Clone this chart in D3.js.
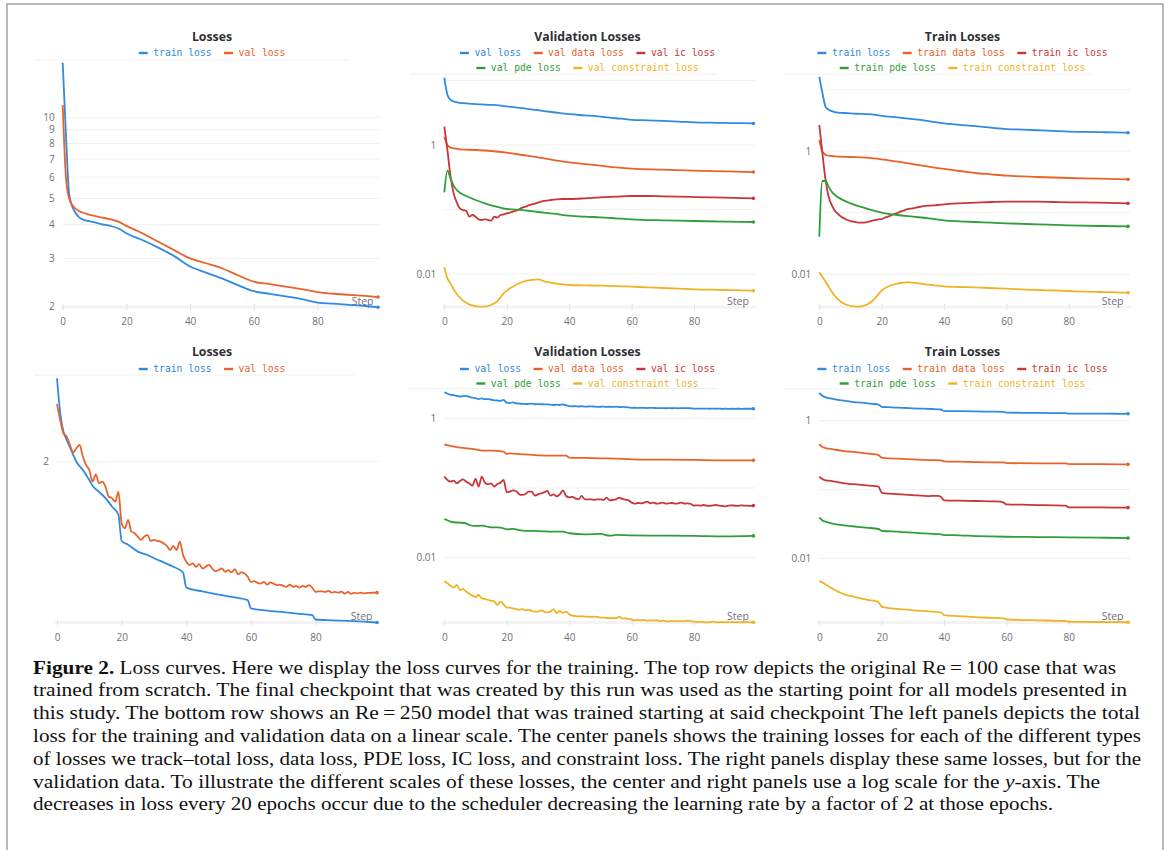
<!DOCTYPE html>
<html><head><meta charset="utf-8">
<script src="https://cdn.jsdelivr.net/npm/d3@7"></script>
<style>
body{margin:0;background:#fff;}
svg{display:block;}
</style></head>
<body>
<svg id="fig" width="1170" height="850"></svg>
<script>
// ---------------- DATA ----------------
const xTicks = [0, 20, 40, 60, 80];
const stepLabel = "Step";

// Top row (Re = 100, from scratch) — [step, value]
const trainLoss1 = [[0,15.92],[1,8.72],[2,5.23],[3,4.67],[4,4.43],[5,4.28],[6,4.20],[8,4.13],[10,4.08],[12,4.02],[15,3.96],[18,3.85],[20,3.72],[25,3.51],[30,3.29],[35,3.06],[40,2.80],[45,2.66],[50,2.53],[55,2.39],[60,2.27],[65,2.22],[70,2.17],[75,2.12],[80,2.06],[85,2.04],[90,2.02],[95,2.00],[99,1.98]];
const valLoss1 = [[0,11.10],[1,6.03],[2,5.01],[3,4.73],[4,4.59],[5,4.50],[6,4.45],[8,4.37],[10,4.31],[12,4.26],[15,4.19],[18,4.08],[20,3.96],[25,3.72],[30,3.46],[35,3.22],[40,3.00],[45,2.88],[50,2.76],[55,2.60],[60,2.46],[65,2.41],[70,2.36],[75,2.31],[80,2.25],[85,2.22],[90,2.20],[95,2.18],[99,2.16]];
const valData1 = [[0,1.346],[1,1.0],[2,0.909],[3,0.888],[5,0.857],[10,0.837],[15,0.807],[20,0.760],[25,0.700],[30,0.644],[35,0.585],[40,0.539],[45,0.507],[50,0.478],[55,0.450],[60,0.430],[70,0.415],[80,0.400],[90,0.391],[99,0.381]];
const valIc1 = [[0,1.924],[1,0.837],[2,0.323],[3,0.178],[4,0.128],[5,0.104],[6,0.098],[7,0.096],[8,0.0774],[9,0.0822],[10,0.0774],[11,0.0704],[12,0.0688],[13,0.0704],[14,0.0688],[15,0.0671],[16,0.0774],[17,0.0747],[18,0.0822],[19,0.0841],[20,0.0872],[21,0.0893],[22,0.0925],[23,0.096],[24,0.1006],[25,0.1067],[26,0.1106],[27,0.116],[28,0.1202],[29,0.123],[30,0.128],[32,0.1355],[34,0.1404],[36,0.144],[38,0.1456],[40,0.1456],[45,0.149],[50,0.1545],[55,0.1582],[60,0.1619],[65,0.1619],[70,0.160],[75,0.158],[80,0.156],[90,0.1526],[99,0.149]];
const valPde1 = [[0,0.1845],[1,0.400],[2,0.304],[3,0.234],[4,0.2006],[5,0.1824],[7,0.162],[10,0.1404],[13,0.1246],[15,0.116],[18,0.1067],[20,0.1018],[25,0.098],[30,0.0915],[35,0.0862],[40,0.0802],[45,0.0774],[50,0.0756],[55,0.0730],[60,0.0704],[70,0.0679],[80,0.0663],[90,0.0648],[99,0.064]];
const valCon1 = [[0,0.01269],[1,0.00857],[2,0.00717],[3,0.00578],[4,0.0049],[5,0.0043],[6,0.00386],[7,0.00359],[8,0.00339],[9,0.00327],[10,0.00319],[11,0.00311],[12,0.00311],[13,0.00311],[14,0.00319],[15,0.00331],[16,0.00351],[17,0.00381],[18,0.00435],[19,0.00502],[20,0.00551],[21,0.006],[22,0.00636],[23,0.00683],[24,0.00717],[25,0.00752],[26,0.00779],[27,0.00798],[28,0.00807],[29,0.00817],[30,0.00827],[31,0.00807],[32,0.0077],[33,0.00752],[34,0.00734],[35,0.00725],[36,0.00708],[38,0.00691],[40,0.00675],[45,0.00667],[50,0.00659],[55,0.00648],[60,0.00636],[65,0.00621],[70,0.00607],[75,0.00593],[80,0.00578],[85,0.00572],[90,0.00565],[95,0.00558],[99,0.00551]];
const trainData1 = [[0,1.508],[1,0.975],[2,0.872],[3,0.840],[5,0.819],[10,0.799],[15,0.780],[20,0.732],[25,0.671],[30,0.615],[35,0.557],[40,0.511],[45,0.474],[50,0.440],[55,0.418],[60,0.398],[70,0.379],[80,0.365],[90,0.356],[99,0.347]];
const trainIc1 = [[0,2.64],[1,0.917],[2,0.339],[3,0.1817],[4,0.1331],[5,0.1077],[6,0.0951],[7,0.0861],[8,0.0809],[9,0.076],[10,0.0732],[11,0.0714],[12,0.0697],[13,0.0688],[14,0.0688],[15,0.0697],[16,0.0714],[17,0.0742],[18,0.076],[19,0.0779],[20,0.0789],[21,0.083],[22,0.0861],[23,0.0905],[24,0.0951],[25,0.0988],[26,0.1038],[27,0.1077],[28,0.1132],[30,0.1176],[32,0.1236],[35,0.1299],[38,0.1331],[40,0.1365],[45,0.1417],[50,0.1453],[55,0.149],[60,0.1508],[65,0.1508],[70,0.1508],[75,0.149],[80,0.1471],[90,0.1453],[99,0.1417]];
const trainPde1 = [[0,0.0408],[1,0.326],[2,0.326],[3,0.264],[4,0.219],[5,0.1934],[6,0.1773],[8,0.1565],[10,0.1417],[12,0.1299],[15,0.1176],[18,0.1064],[20,0.100],[25,0.0917],[30,0.0861],[35,0.0809],[40,0.0751],[45,0.0724],[50,0.0706],[55,0.0688],[60,0.0671],[70,0.0647],[80,0.0623],[90,0.0608],[99,0.060]];
const trainCon1 = [[0,0.01077],[1,0.00917],[2,0.0076],[3,0.00631],[4,0.00524],[5,0.00445],[6,0.00393],[7,0.00356],[8,0.00334],[9,0.00318],[10,0.00307],[11,0.00303],[12,0.00299],[13,0.00299],[14,0.00307],[15,0.00318],[16,0.00339],[17,0.0037],[18,0.00418],[19,0.0048],[20,0.00543],[21,0.00593],[22,0.00631],[23,0.00663],[24,0.00688],[25,0.00706],[26,0.00724],[27,0.00733],[28,0.00742],[29,0.00742],[30,0.00733],[32,0.00715],[35,0.0068],[38,0.00655],[40,0.00639],[45,0.00623],[50,0.00615],[55,0.006],[60,0.00586],[65,0.00571],[70,0.00557],[75,0.00547],[80,0.00537],[85,0.00524],[90,0.00517],[95,0.0051],[99,0.00504]];

// Bottom row (Re = 250, from checkpoint)
const trainLoss2 = [[0,2.543],[1,2.30],[2,2.18],[3,2.13],[4,2.085],[5,2.04],[6,2.00],[8,1.953],[10,1.897],[11,1.866],[13,1.834],[15,1.801],[17,1.758],[19,1.717],[20,1.592],[22,1.575],[25,1.544],[28,1.529],[30,1.515],[33,1.497],[36,1.478],[39,1.454],[40,1.392],[45,1.377],[50,1.364],[55,1.353],[59,1.343],[60,1.311],[65,1.303],[70,1.297],[75,1.291],[79,1.286],[80,1.270],[85,1.267],[90,1.265],[95,1.262],[99,1.259]];
// one value per step 0..99
const valLoss2 = [2.361,2.255,2.170,2.150,2.099,2.055,2.079,2.099,2.030,1.981,
 1.953,1.888,1.928,1.879,1.888,1.861,1.809,1.801,1.783,1.834,
 1.675,1.651,1.691,1.636,1.628,1.612,1.597,1.612,1.620,1.592,
 1.597,1.592,1.589,1.581,1.570,1.551,1.570,1.551,1.589,1.529,
 1.500,1.486,1.493,1.478,1.489,1.471,1.478,1.486,1.471,1.460,
 1.464,1.471,1.457,1.464,1.454,1.468,1.446,1.454,1.450,1.436,
 1.415,1.418,1.411,1.408,1.415,1.404,1.413,1.408,1.402,1.404,
 1.399,1.395,1.404,1.395,1.399,1.392,1.399,1.395,1.402,1.391,
 1.375,1.377,1.377,1.375,1.379,1.372,1.375,1.372,1.376,1.368,
 1.375,1.367,1.372,1.369,1.372,1.369,1.371,1.371,1.372,1.372];
const valData2 = [[0,0.4233],[2,0.4008],[5,0.3793],[10,0.3589],[12,0.3435],[15,0.3435],[19,0.3323],[20,0.3076],[21,0.3145],[25,0.3043],[30,0.2943],[35,0.2911],[39,0.2911],[40,0.2725],[45,0.2695],[50,0.2666],[55,0.2637],[60,0.2579],[70,0.2551],[80,0.2523],[90,0.2495],[99,0.2495]];
const valIc2 = [0.1455,0.1302,0.1233,0.1274,0.1167,0.1260,0.1331,0.1233,0.1167,0.1080,
 0.1346,0.1045,0.1455,0.1193,0.1129,0.1167,0.1045,0.1141,0.1193,0.1302,
 0.0867,0.0886,0.0926,0.0906,0.0811,0.0794,0.0820,0.0886,0.0886,0.0776,
 0.0811,0.0838,0.0867,0.0906,0.0776,0.0811,0.0759,0.0811,0.0926,0.0768,
 0.0735,0.0743,0.0711,0.0688,0.0768,0.0688,0.0688,0.0688,0.0673,0.0688,
 0.0688,0.0673,0.0727,0.0665,0.0673,0.0688,0.0727,0.0695,0.0680,0.0665,
 0.0616,0.0596,0.0609,0.0603,0.0616,0.0637,0.0603,0.0616,0.0596,0.0603,
 0.0616,0.0596,0.0603,0.0609,0.0596,0.0603,0.0616,0.0596,0.0603,0.0589,
 0.0558,0.0564,0.0558,0.0570,0.0558,0.0552,0.0564,0.0570,0.0558,0.0552,
 0.0545,0.0558,0.0564,0.0558,0.0552,0.0564,0.0558,0.0558,0.0552,0.0558];
const valPde2 = [[0,0.0359],[1,0.0344],[2,0.0329],[3,0.0322],[5,0.0318],[7,0.0311],[8,0.0294],[10,0.0285],[12,0.0288],[15,0.0272],[17,0.0272],[19,0.0264],[20,0.0255],[22,0.0258],[25,0.0244],[30,0.0241],[35,0.0236],[38,0.0236],[40,0.0224],[45,0.0216],[50,0.0219],[53,0.0207],[55,0.0212],[60,0.0209],[70,0.0207],[80,0.0205],[90,0.0202],[99,0.0205]];
const valCon2 = [0.00462,0.00428,0.00396,0.00371,0.00405,0.00343,0.00355,0.00325,0.00304,0.00285,
 0.00272,0.00291,0.00261,0.00255,0.00247,0.00241,0.00234,0.00209,0.00234,0.00214,
 0.00192,0.00192,0.00187,0.00183,0.00179,0.00183,0.00175,0.00179,0.00172,0.00168,
 0.00168,0.00175,0.00168,0.00164,0.00168,0.00183,0.00159,0.00172,0.00161,0.00168,
 0.00154,0.00147,0.00145,0.00144,0.00144,0.00142,0.00142,0.00141,0.00142,0.00141,
 0.00138,0.00138,0.00136,0.00135,0.00136,0.00135,0.00142,0.00133,0.00135,0.00132,
 0.00130,0.00126,0.00127,0.00126,0.00127,0.00125,0.00126,0.00125,0.00127,0.00123,
 0.00125,0.00123,0.00122,0.00123,0.00123,0.00122,0.00123,0.00122,0.00125,0.00122,
 0.00121,0.00119,0.00121,0.00119,0.00118,0.00119,0.00121,0.00119,0.00118,0.00119,
 0.00119,0.00118,0.00119,0.00118,0.00119,0.00118,0.00118,0.00119,0.00118,0.00118];
const trainData2 = [[0,0.458],[1,0.4144],[2,0.4008],[3,0.3918],[5,0.3791],[8,0.3626],[10,0.3545],[13,0.3428],[15,0.3353],[17,0.3279],[19,0.3171],[20,0.2901],[21,0.2869],[25,0.2805],[30,0.2743],[35,0.2683],[39,0.2653],[40,0.2566],[45,0.2537],[50,0.2509],[55,0.2481],[59,0.2481],[60,0.2427],[70,0.2400],[79,0.2400],[80,0.2347],[90,0.2347],[99,0.2320]];
const trainIc2 = [[0,0.1536],[1,0.1421],[2,0.1359],[3,0.1344],[5,0.130],[8,0.1229],[10,0.1202],[12,0.1189],[15,0.115],[18,0.1124],[19,0.1099],[20,0.0899],[21,0.088],[25,0.086],[30,0.0832],[35,0.0804],[38,0.0809],[39,0.0787],[40,0.0696],[45,0.0688],[50,0.0681],[55,0.0673],[58,0.0669],[59,0.0651],[60,0.0609],[65,0.0602],[70,0.0595],[75,0.0589],[79,0.0582],[80,0.0551],[90,0.0551],[99,0.0545]];
const trainPde2 = [[0,0.0394],[1,0.0356],[2,0.0341],[3,0.033],[5,0.0315],[8,0.0302],[10,0.0295],[13,0.0285],[15,0.0279],[19,0.0267],[20,0.0252],[25,0.0244],[30,0.0236],[35,0.0228],[39,0.0223],[40,0.0218],[45,0.0216],[50,0.0211],[55,0.0208],[60,0.0206],[70,0.0204],[80,0.0202],[90,0.0200],[99,0.0197]];
const trainCon2 = [[0,0.00474],[1,0.00448],[2,0.00419],[3,0.00392],[4,0.00367],[5,0.00347],[6,0.00328],[7,0.00314],[8,0.003],[10,0.00284],[12,0.00271],[14,0.00257],[16,0.00248],[18,0.0024],[19,0.0023],[20,0.00199],[21,0.00194],[25,0.00184],[30,0.00176],[35,0.0017],[39,0.00164],[40,0.0015],[45,0.00145],[50,0.0014],[55,0.00137],[59,0.00134],[60,0.0013],[65,0.00127],[70,0.00126],[75,0.00124],[79,0.00123],[80,0.0012],[90,0.00119],[99,0.00118]];

const captionLines = [
  [["b","Figure 2."],["r"," Loss curves. Here we display the loss curves for the training. The top row depicts the original Re\u2009=\u2009100 case that was"]],
  [["r","trained from scratch. The final checkpoint that was created by this run was used as the starting point for all models presented in"]],
  [["r","this study. The bottom row shows an Re\u2009=\u2009250 model that was trained starting at said checkpoint The left panels depicts the total"]],
  [["r","loss for the training and validation data on a linear scale. The center panels shows the training losses for each of the different types"]],
  [["r","of losses we track\u2013total loss, data loss, PDE loss, IC loss, and constraint loss. The right panels display these same losses, but for the"]],
  [["r","validation data. To illustrate the different scales of these losses, the center and right panels use a log scale for the "],["i","y"],["r","-axis. The"]],
  [["r","decreases in loss every 20 epochs occur due to the scheduler decreasing the learning rate by a factor of 2 at those epochs."]]
];

// ---------------- STYLE / LAYOUT ----------------
const C = {blue:"#2f8ae0", orange:"#e8622a", red:"#c93636", green:"#2f9e3a", yellow:"#f0b325"};
const capEnds = [1116, 1127, 1140, 1141, 1141, 1100, 1053];

const panels = [
  {title:"Losses", cx:212, ty:37, legY:[53], sep:[60,34,350], x0:62.7, x99:378, ref:[2,306], ppd:270, axisY:307, topY:60,
   grid:[2,3,4,5,6,7,8,9,10], labels:[2,3,4,5,6,7,8,9,10],
   legend:[[["train loss",C.blue],["val loss",C.orange]]],
   series:[[trainLoss1,C.blue],[valLoss1,C.orange]]},
  {title:"Validation Losses", cx:587.5, ty:37, legY:[53,68], sep:[74,410,717], x0:444.3, x99:753.4, ref:[1,145], ppd:64.5, axisY:307, topY:75,
   grid:[10,1,0.1,0.01], labels:[1,0.01],
   legend:[[["val loss",C.blue],["val data loss",C.orange],["val ic loss",C.red]],[["val pde loss",C.green],["val constraint loss",C.yellow]]],
   series:[[valLoss1,C.blue],[valData1,C.orange],[valIc1,C.red],[valPde1,C.green],[valCon1,C.yellow]]},
  {title:"Train Losses", cx:962.5, ty:37, legY:[53,68], sep:[74,784,1092], x0:819.3, x99:1128, ref:[1,151], ppd:61.67, axisY:307, topY:75,
   grid:[10,1,0.1,0.01], labels:[1,0.01],
   legend:[[["train loss",C.blue],["train data loss",C.orange],["train ic loss",C.red]],[["train pde loss",C.green],["train constraint loss",C.yellow]]],
   series:[[trainLoss1,C.blue],[trainData1,C.orange],[trainIc1,C.red],[trainPde1,C.green],[trainCon1,C.yellow]]},
  {title:"Losses", cx:212, ty:352, legY:[369], sep:[375,34,355], x0:57, x99:377, ref:[2,461.7], ppd:800, axisY:622.5, topY:376,
   grid:[2], labels:[2],
   legend:[[["train loss",C.blue],["val loss",C.orange]]],
   series:[[trainLoss2,C.blue],[valLoss2,C.orange]]},
  {title:"Validation Losses", cx:587.5, ty:352, legY:[369,383.5], sep:[388.5,408,717], x0:444.3, x99:753.4, ref:[1,418.3], ppd:69.67, axisY:622.5, topY:390,
   grid:[1,0.1,0.01], labels:[1,0.01],
   legend:[[["val loss",C.blue],["val data loss",C.orange],["val ic loss",C.red]],[["val pde loss",C.green],["val constraint loss",C.yellow]]],
   series:[[valLoss2,C.blue],[valData2,C.orange],[valIc2,C.red],[valPde2,C.green],[valCon2,C.yellow]]},
  {title:"Train Losses", cx:962.5, ty:352, legY:[369,383.5], sep:[389,784,1092], x0:819.3, x99:1128, ref:[1,420.7], ppd:68.83, axisY:622.5, topY:390,
   grid:[1,0.1,0.01], labels:[1,0.01],
   legend:[[["train loss",C.blue],["train data loss",C.orange],["train ic loss",C.red]],[["train pde loss",C.green],["train constraint loss",C.yellow]]],
   series:[[trainLoss2,C.blue],[trainData2,C.orange],[trainIc2,C.red],[trainPde2,C.green],[trainCon2,C.yellow]]}
];

// ---------------- DRAW ----------------
const svg = d3.select("#fig");
svg.append("rect").attr("x",0).attr("y",0).attr("width",1170).attr("height",850).attr("fill","#fff");
svg.append("rect").attr("x",7).attr("y",4).attr("width",1156).attr("height",900)
  .attr("fill","none").attr("stroke","#a8a8a8").attr("stroke-width",1.6);

const sans = "'Open Sans','Noto Sans',sans-serif";
const mono = "'DejaVu Sans Mono','Liberation Mono',monospace";

function toPairs(s){ return (typeof s[0] === "number") ? s.map((v,i)=>[i,v]) : s; }

panels.forEach(p => {
  const g = svg.append("g");
  const x = d3.scaleLinear().domain([0,99]).range([p.x0, p.x99]);
  const lo = p.ref[0]*Math.pow(10, -(p.axisY - p.ref[1])/p.ppd);
  const hi = p.ref[0]*Math.pow(10, (p.ref[1] - p.topY)/p.ppd);
  const y = d3.scaleLog().domain([lo, hi]).range([p.axisY, p.topY]);

  // gridlines
  g.append("g").selectAll("line").data(p.grid).join("line")
    .attr("x1", p.x0).attr("x2", p.x99+2)
    .attr("y1", d=>y(d)).attr("y2", d=>y(d))
    .attr("stroke","#f0f0f0").attr("stroke-width",1);
  // y labels
  g.append("g").selectAll("text").data(p.labels).join("text")
    .attr("x", p.x0-8).attr("y", d=>y(d)).attr("dy","0.35em")
    .attr("text-anchor","end").attr("font-family",sans).attr("font-size",10)
    .attr("fill","#6f6f78").text(d=>d);

  // x axis
  const ax = g.append("g").attr("transform",`translate(0,${p.axisY})`)
    .call(d3.axisBottom(x).tickValues(xTicks).tickSize(6).tickPadding(5).tickSizeOuter(0));
  ax.select(".domain").attr("stroke","#f3f3f3").attr("stroke-width",3)
    .attr("d", `M${p.x0-2},0H${p.x99+3}`);
  ax.selectAll(".tick line").attr("stroke","#e3e3e3").attr("y1",-3).attr("y2",3);
  ax.selectAll(".tick text").attr("font-family",sans).attr("font-size",10).attr("fill","#6f6f78");

  g.append("text").attr("x", p.x99-4.5).attr("y", p.axisY-2.5).attr("text-anchor","end")
    .attr("font-family",sans).attr("font-size",10.5).attr("fill","#6f6f78").text(stepLabel);

  // title
  g.append("text").attr("x",p.cx).attr("y",p.ty).attr("dy","0.35em").attr("text-anchor","middle")
    .attr("font-family",sans).attr("font-weight",700).attr("font-size",12.3).attr("fill","#2f2f36").text(p.title);

  // legend
  p.legend.forEach((row, ri) => {
    const lg = g.append("g");
    let cur = 0;
    row.forEach(([name,col]) => {
      lg.append("line").attr("x1",cur).attr("x2",cur+9).attr("y1",0).attr("y2",0)
        .attr("stroke",col).attr("stroke-width",2.4);
      const t = lg.append("text").attr("x",cur+14.5).attr("y",0).attr("dy","0.33em")
        .attr("font-family",mono).attr("font-size",9.7).attr("fill",col).text(name);
      cur += 14.5 + t.node().getComputedTextLength() + 12.5;
    });
    const w = cur - 12.5;
    lg.attr("transform",`translate(${p.cx - w/2},${p.legY[ri]})`);
  });
  // legend separator
  g.append("line").attr("x1",p.sep[1]).attr("x2",p.sep[2]).attr("y1",p.sep[0]).attr("y2",p.sep[0])
    .attr("stroke","#f0f0f0").attr("stroke-width",1);

  // series
  const line = d3.line().x(d=>x(d[0])).y(d=>y(d[1])).curve(d3.curveMonotoneX);
  p.series.forEach(([s,col]) => {
    const pts = toPairs(s);
    g.append("path").datum(pts).attr("d",line).attr("fill","none")
      .attr("stroke",col).attr("stroke-width",1.8).attr("stroke-linejoin","round");
    const last = pts[pts.length-1];
    g.append("circle").attr("cx",x(last[0])).attr("cy",y(last[1])).attr("r",1.8).attr("fill",col);
  });
});

// caption
const cap = svg.append("g");
captionLines.forEach((ln, i) => {
  const t = cap.append("text").attr("x",33).attr("y",673.5 + i*22.8)
    .attr("font-family","'Liberation Serif','DejaVu Serif',serif").attr("font-size",18.6).attr("fill","#111")
    .attr("textLength", capEnds[i]-33).attr("lengthAdjust","spacingAndGlyphs");
  ln.forEach(([st, txt]) => {
    const ts = t.append("tspan").text(txt);
    if (st==="b") ts.attr("font-weight",700);
    if (st==="i") ts.attr("font-style","italic");
  });
});
</script>
</body></html>
